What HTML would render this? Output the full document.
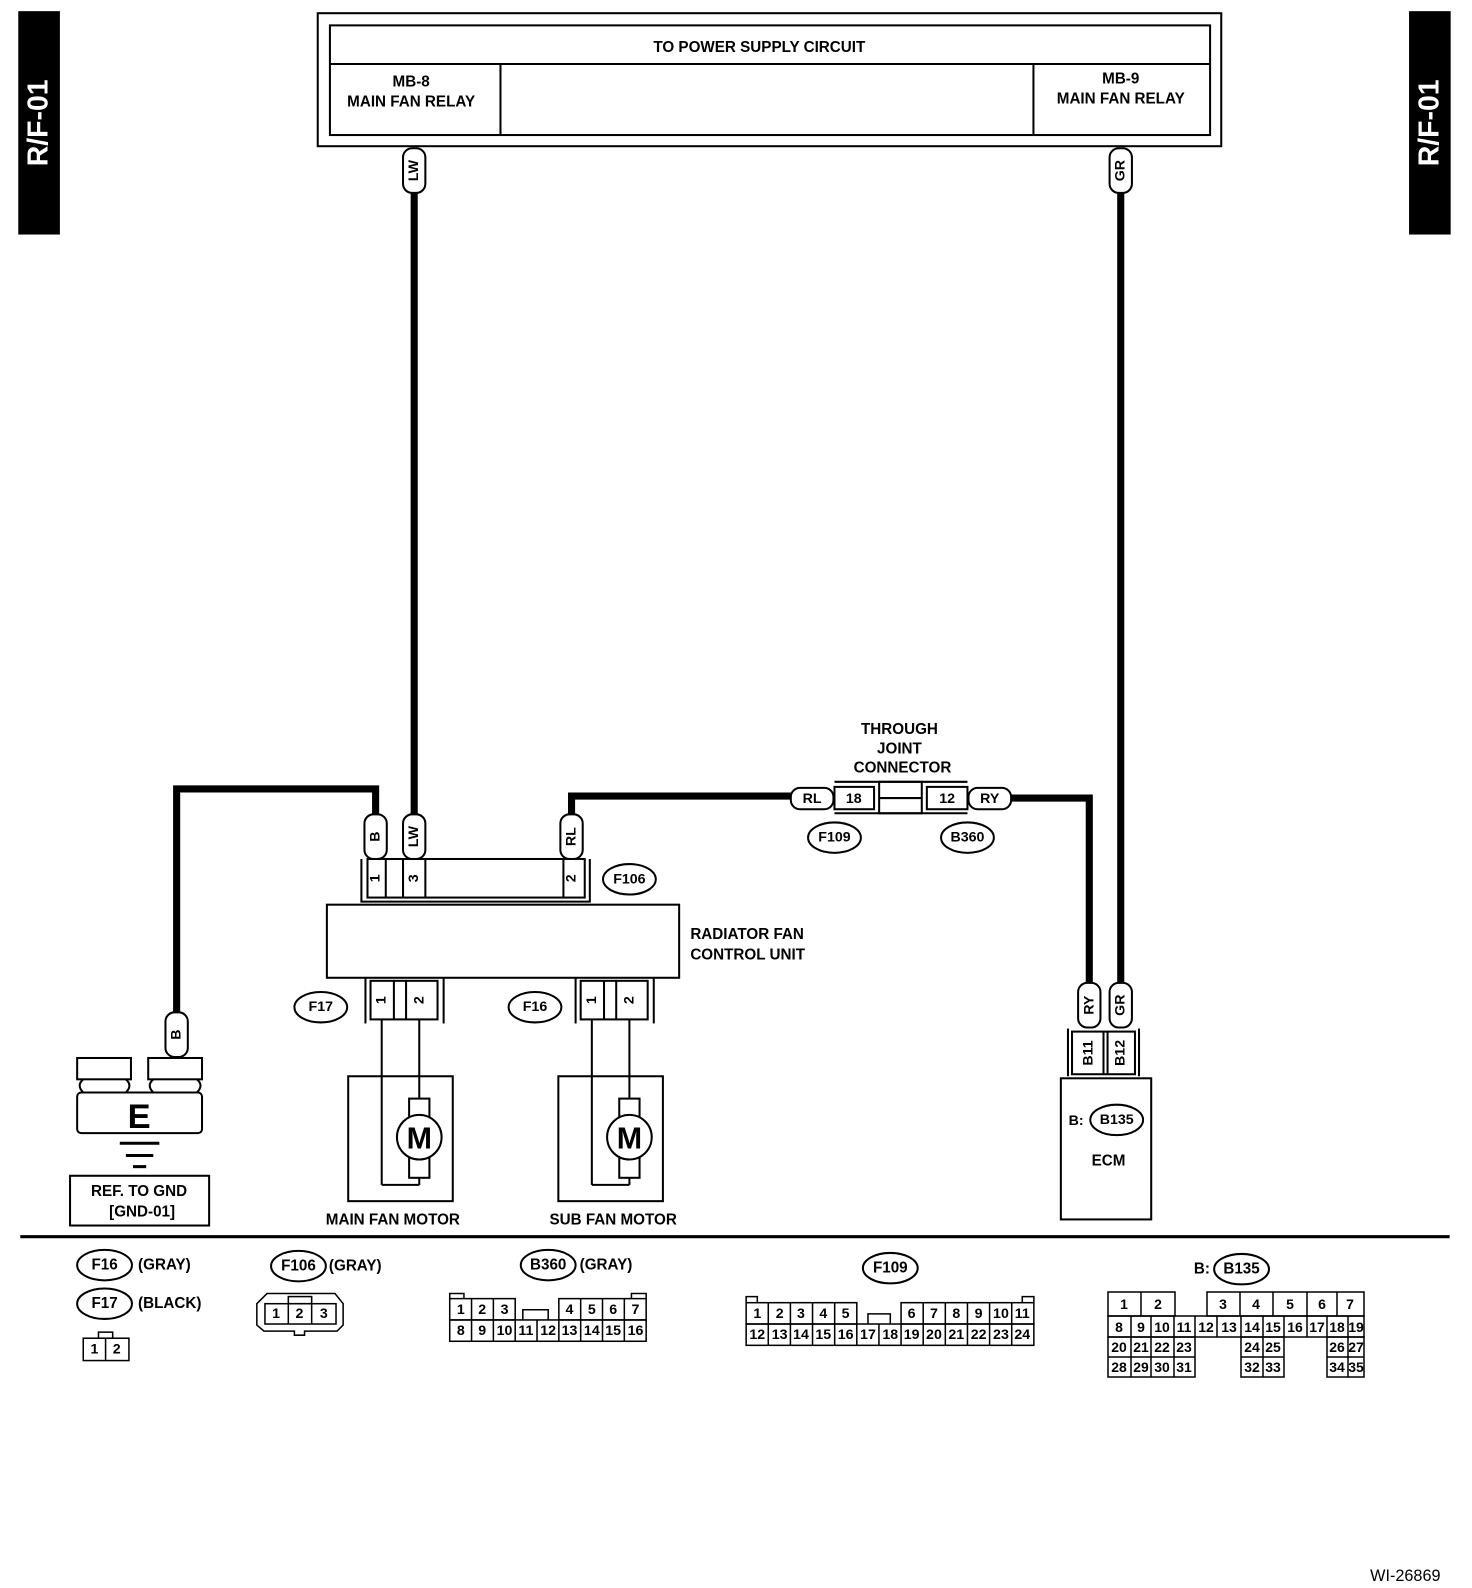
<!DOCTYPE html>
<html><head><meta charset="utf-8"><style>
html,body{margin:0;padding:0;background:#fff}
svg{display:block}
text{font-family:"Liberation Sans",sans-serif;font-weight:bold;fill:#000}
</style></head><body>
<svg width="1472" height="1588" viewBox="0 0 1450 1564" preserveAspectRatio="none" xmlns="http://www.w3.org/2000/svg">
<g fill="none" stroke="#000" stroke-width="2">
<rect x="19" y="12" width="39" height="218" fill="#000"/>
<rect x="1389" y="12" width="39" height="218" fill="#000"/>
<rect x="313" y="13" width="890" height="131"/>
<rect x="325" y="25" width="867" height="108"/>
<line x1="325" y1="63" x2="1192" y2="63"/>
<line x1="493" y1="63" x2="493" y2="133"/>
<line x1="1018" y1="63" x2="1018" y2="133"/>
</g>
<text x="38" y="121" transform="rotate(-90 38 121)" text-anchor="middle" dominant-baseline="central" font-size="28" style="fill:#fff">R/F-01</text>
<text x="1408" y="121" transform="rotate(-90 1408 121)" text-anchor="middle" dominant-baseline="central" font-size="28" style="fill:#fff">R/F-01</text>
<g font-size="15" text-anchor="middle">
<text x="748" y="51">TO POWER SUPPLY CIRCUIT</text>
<text x="405" y="85">MB-8</text><text x="405" y="105">MAIN FAN RELAY</text>
<text x="1104" y="82">MB-9</text><text x="1104" y="102">MAIN FAN RELAY</text>
</g>

<g fill="none" stroke="#000" stroke-width="7" stroke-linejoin="miter">
<polyline points="408,190 408,805"/>
<polyline points="1104,190 1104,972"/>
<polyline points="370,805 370,777 174,777 174,1000"/>
<polyline points="563,805 563,784 780,784"/>
<polyline points="995,786 1073,786 1073,972"/>
</g>

<g fill="#fff" stroke="#000" stroke-width="2">
<rect x="397" y="146" width="22" height="44" rx="9"/>
<rect x="1093" y="146" width="22" height="44" rx="9"/>
<rect x="359" y="802" width="22" height="44" rx="9"/>
<rect x="397" y="802" width="22" height="44" rx="9"/>
<rect x="552" y="802" width="22" height="44" rx="9"/>
<rect x="163" y="997" width="22" height="44" rx="9"/>
<rect x="1062" y="968" width="22" height="44" rx="9"/>
<rect x="1093" y="968" width="22" height="44" rx="9"/>
<rect x="779" y="776" width="42" height="21" rx="9"/>
<rect x="954" y="776" width="42" height="21" rx="9"/>
</g>
<g font-size="14" text-anchor="middle" dominant-baseline="central">
<text x="408" y="168" transform="rotate(-90 408 168)">LW</text>
<text x="1104" y="168" transform="rotate(-90 1104 168)">GR</text>
<text x="370" y="824" transform="rotate(-90 370 824)">B</text>
<text x="408" y="824" transform="rotate(-90 408 824)">LW</text>
<text x="563" y="824" transform="rotate(-90 563 824)">RL</text>
<text x="174" y="1019" transform="rotate(-90 174 1019)">B</text>
<text x="1073" y="990" transform="rotate(-90 1073 990)">RY</text>
<text x="1104" y="990" transform="rotate(-90 1104 990)">GR</text>
<text x="800" y="787">RL</text>
<text x="975" y="787">RY</text>
</g>

<g fill="none" stroke="#000" stroke-width="2">
<polyline points="356,846 356,888 581,888 581,846"/>
<rect x="362" y="846" width="214" height="38"/>
<line x1="380" y1="846" x2="380" y2="884"/>
<line x1="397" y1="846" x2="397" y2="884"/>
<line x1="419" y1="846" x2="419" y2="884"/>
<line x1="555" y1="846" x2="555" y2="884"/>
<rect x="322" y="891" width="347" height="72"/>
<polyline points="360,963 360,1008"/><polyline points="437,963 437,1008"/>
<rect x="365" y="966" width="66" height="38"/>
<line x1="388" y1="966" x2="388" y2="1004"/><line x1="400" y1="966" x2="400" y2="1004"/>
<line x1="376" y1="1004" x2="376" y2="1167"/><line x1="376" y1="1167" x2="413" y2="1167"/>
<line x1="413" y1="1004" x2="413" y2="1082"/><line x1="413" y1="1160" x2="413" y2="1167"/>
<rect x="343" y="1060" width="103" height="123"/>
<rect x="403" y="1082" width="20" height="78" fill="#fff"/>
<circle cx="413" cy="1120" r="22" fill="#fff"/>
<polyline points="567,963 567,1008"/><polyline points="644,963 644,1008"/>
<rect x="572" y="966" width="66" height="38"/>
<line x1="595" y1="966" x2="595" y2="1004"/><line x1="607" y1="966" x2="607" y2="1004"/>
<line x1="583" y1="1004" x2="583" y2="1167"/><line x1="583" y1="1167" x2="620" y2="1167"/>
<line x1="620" y1="1004" x2="620" y2="1082"/><line x1="620" y1="1160" x2="620" y2="1167"/>
<rect x="550" y="1060" width="103" height="123"/>
<rect x="610" y="1082" width="20" height="78" fill="#fff"/>
<circle cx="620" cy="1120" r="22" fill="#fff"/>
<ellipse cx="620" cy="866" rx="26" ry="15"/>
<ellipse cx="316" cy="992" rx="26" ry="15"/>
<ellipse cx="527" cy="992" rx="26" ry="15"/>
<ellipse cx="822" cy="825" rx="26" ry="15"/>
<ellipse cx="953" cy="825" rx="26" ry="15"/>
<ellipse cx="1100" cy="1103" rx="26" ry="15"/>
<line x1="822" y1="770" x2="953" y2="770"/>
<line x1="822" y1="801" x2="953" y2="801"/>
<rect x="822" y="775" width="39" height="22"/>
<rect x="866" y="770" width="42" height="31"/>
<line x1="866" y1="786" x2="908" y2="786"/>
<rect x="913" y="775" width="40" height="22"/>
<polyline points="1052,1013 1052,1060"/><polyline points="1122,1013 1122,1060"/>
<rect x="1056" y="1016" width="62" height="42"/>
<line x1="1087" y1="1016" x2="1087" y2="1058"/><line x1="1091" y1="1016" x2="1091" y2="1058"/>
<rect x="1045" y="1062" width="89" height="139"/>
<rect x="76" y="1042" width="53" height="21"/>
<rect x="146" y="1042" width="53" height="21"/>
<rect x="76" y="1076" width="123" height="40" rx="4"/>
<path d="M82,1063 q-7,6 0,13 M124,1063 q7,6 0,13 M151,1063 q-7,6 0,13 M194,1063 q7,6 0,13"/>
<rect x="69" y="1158" width="137" height="49"/>
</g>
<g stroke="#000" stroke-width="3">
<line x1="118" y1="1126" x2="157" y2="1126"/>
<line x1="124" y1="1138" x2="151" y2="1138"/>
<line x1="131" y1="1149" x2="144" y2="1149"/>
</g>
<text x="137" y="1111" font-size="34" text-anchor="middle">E</text>
<text x="413" y="1131" font-size="30" text-anchor="middle">M</text>
<text x="620" y="1131" font-size="30" text-anchor="middle">M</text>
<g font-size="14" text-anchor="middle" dominant-baseline="central">
<text x="370" y="865" transform="rotate(-90 370 865)">1</text>
<text x="408" y="865" transform="rotate(-90 408 865)">3</text>
<text x="563" y="865" transform="rotate(-90 563 865)">2</text>
<text x="376" y="985" transform="rotate(-90 376 985)">1</text>
<text x="413" y="985" transform="rotate(-90 413 985)">2</text>
<text x="583" y="985" transform="rotate(-90 583 985)">1</text>
<text x="620" y="985" transform="rotate(-90 620 985)">2</text>
<text x="1072" y="1037" transform="rotate(-90 1072 1037)">B11</text>
<text x="1104" y="1037" transform="rotate(-90 1104 1037)">B12</text>
<text x="841" y="787">18</text>
<text x="933" y="787">12</text>
<text x="620" y="866">F106</text>
<text x="316" y="992">F17</text>
<text x="527" y="992">F16</text>
<text x="822" y="825">F109</text>
<text x="953" y="825">B360</text>
<text x="1100" y="1103">B135</text>
<text x="1060" y="1104">B:</text>
</g>
<g font-size="15">
<text x="680" y="925">RADIATOR FAN</text>
<text x="680" y="945">CONTROL UNIT</text>
<text x="886" y="723" text-anchor="middle">THROUGH</text>
<text x="886" y="742" text-anchor="middle">JOINT</text>
<text x="889" y="761" text-anchor="middle">CONNECTOR</text>
<text x="1092" y="1148" text-anchor="middle">ECM</text>
<text x="387" y="1206" text-anchor="middle">MAIN FAN MOTOR</text>
<text x="604" y="1206" text-anchor="middle">SUB FAN MOTOR</text>
<text x="137" y="1178" text-anchor="middle">REF. TO GND</text>
<text x="140" y="1198" text-anchor="middle">[GND-01]</text>
</g>

<line x1="20" y1="1218" x2="1428" y2="1218" stroke="#000" stroke-width="3"/>

<g fill="none" stroke="#000" stroke-width="2">
<ellipse cx="103" cy="1246" rx="27" ry="15"/>
<ellipse cx="103" cy="1284" rx="27" ry="15"/>
<ellipse cx="294" cy="1247" rx="27" ry="15"/>
<ellipse cx="540" cy="1246" rx="27" ry="15"/>
<ellipse cx="877" cy="1249" rx="27" ry="15"/>
<ellipse cx="1223" cy="1250" rx="27" ry="15"/>
</g>
<g font-size="15" dominant-baseline="central">
<text x="103" y="1246" text-anchor="middle">F16</text><text x="136" y="1246">(GRAY)</text>
<text x="103" y="1284" text-anchor="middle">F17</text><text x="136" y="1284">(BLACK)</text>
<text x="294" y="1247" text-anchor="middle">F106</text><text x="324" y="1247">(GRAY)</text>
<text x="540" y="1246" text-anchor="middle">B360</text><text x="571" y="1246">(GRAY)</text>
<text x="877" y="1249" text-anchor="middle">F109</text>
<text x="1223" y="1250" text-anchor="middle">B135</text><text x="1176" y="1250">B:</text>
</g>
<g fill="none" stroke="#000" stroke-width="1.5">
<rect x="82" y="1318" width="45" height="22"/><line x1="104" y1="1318" x2="104" y2="1340"/>
<rect x="97" y="1312" width="14" height="6"/>
<path d="M263,1274 H330 L338,1284 V1305 L332,1311 H300 V1315 H290 V1311 H260 L253,1305 V1284 Z"/>
<rect x="261" y="1284" width="70" height="20"/>
<line x1="284" y1="1284" x2="284" y2="1304"/><line x1="307" y1="1284" x2="307" y2="1304"/>
<rect x="284" y="1277" width="23" height="7"/>
<rect x="443" y="1279" width="64.5" height="21"/>
<line x1="464.5" y1="1279" x2="464.5" y2="1300"/><line x1="486" y1="1279" x2="486" y2="1300"/>
<rect x="550.5" y="1279" width="86" height="21"/>
<line x1="572" y1="1279" x2="572" y2="1300"/><line x1="593.5" y1="1279" x2="593.5" y2="1300"/><line x1="615" y1="1279" x2="615" y2="1300"/>
<rect x="443" y="1300" width="193.5" height="21"/>
<path d="M464.5,1300V1321M486,1300V1321M507.5,1300V1321M529,1300V1321M550.5,1300V1321M572,1300V1321M593.5,1300V1321M615,1300V1321"/>
<path d="M443,1279V1274H457V1279M622,1279V1274H636.5V1279M515,1300V1290H540V1300"/>
<rect x="735" y="1283" width="109" height="21"/>
<path d="M756.8,1283V1304M778.6,1283V1304M800.4,1283V1304M822.2,1283V1304"/>
<rect x="887.6" y="1283" width="130.8" height="21"/>
<path d="M909.4,1283V1304M931.2,1283V1304M953,1283V1304M974.8,1283V1304M996.6,1283V1304"/>
<rect x="735" y="1304" width="283.4" height="21"/>
<path d="M756.8,1304V1325M778.6,1304V1325M800.4,1304V1325M822.2,1304V1325M844,1304V1325M865.8,1304V1325M887.6,1304V1325M909.4,1304V1325M931.2,1304V1325M953,1304V1325M974.8,1304V1325M996.6,1304V1325"/>
<path d="M735,1283V1277H746V1283M1007,1283V1277H1018.4V1283M855,1304V1294H877V1304"/>
</g>
<g font-size="14" text-anchor="middle" dominant-baseline="central" style="font-weight:normal">
<text x="93" y="1329">1</text><text x="115" y="1329">2</text>
<text x="272" y="1294">1</text><text x="295" y="1294">2</text><text x="319" y="1294">3</text>
<text x="454" y="1290">1</text><text x="475" y="1290">2</text><text x="497" y="1290">3</text>
<text x="561" y="1290">4</text><text x="583" y="1290">5</text><text x="604" y="1290">6</text><text x="626" y="1290">7</text>
<text x="454" y="1311">8</text><text x="475" y="1311">9</text><text x="497" y="1311">10</text><text x="518" y="1311">11</text><text x="540" y="1311">12</text><text x="561" y="1311">13</text><text x="583" y="1311">14</text><text x="604" y="1311">15</text><text x="626" y="1311">16</text>
<text x="746" y="1294">1</text><text x="768" y="1294">2</text><text x="789" y="1294">3</text><text x="811" y="1294">4</text><text x="833" y="1294">5</text>
<text x="898" y="1294">6</text><text x="920" y="1294">7</text><text x="942" y="1294">8</text><text x="964" y="1294">9</text><text x="986" y="1294">10</text><text x="1007" y="1294">11</text>
<text x="746" y="1315">12</text><text x="768" y="1315">13</text><text x="789" y="1315">14</text><text x="811" y="1315">15</text><text x="833" y="1315">16</text><text x="855" y="1315">17</text><text x="877" y="1315">18</text><text x="898" y="1315">19</text><text x="920" y="1315">20</text><text x="942" y="1315">21</text><text x="964" y="1315">22</text><text x="986" y="1315">23</text><text x="1007" y="1315">24</text>
</g>
<g transform="scale(0.98505 0.98489)">
<g fill="none" stroke="#000" stroke-width="1.5">
<rect x="1108" y="1292" width="67" height="24"/><line x1="1141" y1="1292" x2="1141" y2="1316"/>
<rect x="1207" y="1292" width="157" height="24"/>
<path d="M1240,1292V1316M1273,1292V1316M1307,1292V1316M1337,1292V1316"/>
<rect x="1108" y="1316" width="256" height="21"/>
<path d="M1131,1316V1337M1151,1316V1337M1174,1316V1337M1195,1316V1337M1217,1316V1337M1241,1316V1337M1263,1316V1337M1284,1316V1337M1307,1316V1337M1327,1316V1337M1348,1316V1337"/>
<rect x="1108" y="1337" width="87" height="40"/>
<path d="M1108,1357H1195M1131,1337V1377M1151,1337V1377M1174,1337V1377"/>
<rect x="1241" y="1337" width="43" height="40"/>
<path d="M1241,1357H1284M1263,1337V1377"/>
<rect x="1327" y="1337" width="37" height="40"/>
<path d="M1327,1357H1364M1348,1337V1377"/>
</g>
<g font-size="14" text-anchor="middle" dominant-baseline="central" style="font-weight:normal">
<text x="1124" y="1304">1</text><text x="1158" y="1304">2</text><text x="1223" y="1304">3</text><text x="1256" y="1304">4</text><text x="1290" y="1304">5</text><text x="1322" y="1304">6</text><text x="1350" y="1304">7</text>
<text x="1119" y="1327">8</text><text x="1141" y="1327">9</text><text x="1162" y="1327">10</text><text x="1184" y="1327">11</text><text x="1206" y="1327">12</text><text x="1229" y="1327">13</text><text x="1252" y="1327">14</text><text x="1273" y="1327">15</text><text x="1295" y="1327">16</text><text x="1317" y="1327">17</text><text x="1337" y="1327">18</text><text x="1356" y="1327">19</text>
<text x="1119" y="1347">20</text><text x="1141" y="1347">21</text><text x="1162" y="1347">22</text><text x="1184" y="1347">23</text><text x="1252" y="1347">24</text><text x="1273" y="1347">25</text><text x="1337" y="1347">26</text><text x="1356" y="1347">27</text>
<text x="1119" y="1367">28</text><text x="1141" y="1367">29</text><text x="1162" y="1367">30</text><text x="1184" y="1367">31</text><text x="1252" y="1367">32</text><text x="1273" y="1367">33</text><text x="1337" y="1367">34</text><text x="1356" y="1367">35</text>
</g>
</g>
<text x="1419" y="1557" font-size="16" text-anchor="end" style="font-weight:normal">WI-26869</text>
</svg>
</body></html>
